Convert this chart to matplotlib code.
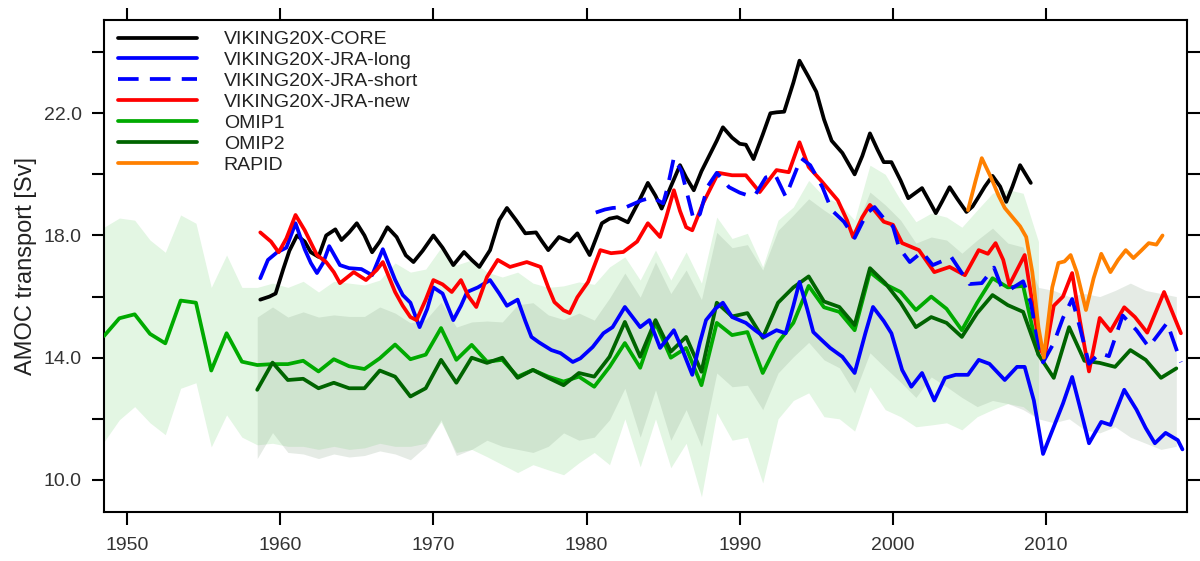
import numpy as np
import matplotlib
matplotlib.use("Agg")
import matplotlib.pyplot as plt

plt.rcParams['font.family'] = ['Liberation Sans', 'DejaVu Sans']

# ---- annual OMIP ensemble means and spreads (plotted at mid-year) ----
omip1_years = np.arange(1948, 2010)
omip1_mean = [14.71, 15.29, 15.42, 14.78, 14.47, 15.87, 15.80, 13.58, 14.80, 13.87,
              13.76, 13.79, 13.79, 13.90, 13.55, 13.95, 13.72, 13.63, 13.98, 14.43,
              13.95, 14.10, 14.97, 13.93, 14.42, 13.87, 13.93, 13.38, 13.60, 13.38,
              13.22, 13.38, 13.05, 13.70, 14.48, 13.67, 15.14, 14.00, 14.32, 13.10,
              15.14, 14.74, 14.84, 13.50, 14.50, 15.14, 16.35, 15.65, 15.50, 14.90,
              16.80, 16.40, 16.15, 15.56, 16.00, 15.60, 14.90, 15.80, 16.60, 16.30,
              16.35, 14.10]
omip1_upper = [18.27, 18.57, 18.50, 17.85, 17.45, 18.67, 18.40, 16.30, 17.36, 16.30,
               16.30, 16.44, 16.30, 16.50, 16.15, 16.50, 16.44, 16.38, 16.54, 17.10,
               16.80, 16.90, 17.60, 17.03, 17.20, 16.80, 16.64, 16.80, 16.44, 16.30,
               16.35, 16.48, 16.40, 16.97, 17.30, 16.54, 17.52, 16.54, 17.46, 16.44,
               18.60, 17.90, 18.07, 16.97, 18.50, 18.93, 19.80, 19.27, 19.05, 18.50,
               20.30, 20.00, 19.15, 18.45, 18.73, 18.60, 18.27, 18.83, 19.38, 19.50,
               19.38, 17.80]
omip1_lower = [11.25, 11.97, 12.40, 11.87, 11.48, 13.00, 13.18, 11.08, 12.13, 11.40,
               11.15, 11.20, 11.10, 11.10, 11.00, 11.10, 11.00, 11.05, 11.20, 11.10,
               11.10, 11.20, 11.90, 10.90, 11.00, 10.76, 10.50, 10.24, 10.50, 10.33,
               10.17, 10.56, 10.90, 10.50, 12.00, 10.43, 12.00, 10.40, 11.20, 9.45,
               12.20, 11.30, 11.40, 9.90, 12.00, 12.60, 12.85, 12.07, 12.00, 11.60,
               13.05, 12.30, 12.07, 11.74, 11.80, 11.87, 11.64, 12.07, 12.30, 12.50,
               12.40, 12.00]

omip2_years = np.arange(1958, 2019)
omip2_mean = [12.95, 13.84, 13.27, 13.31, 13.00, 13.18, 13.00, 13.00, 13.58, 13.38,
              12.73, 13.00, 13.93, 13.18, 14.00, 13.83, 14.00, 13.34, 13.60, 13.34,
              13.10, 13.50, 13.38, 14.03, 15.17, 14.03, 15.23, 14.20, 14.68, 13.54,
              15.80, 15.35, 15.46, 14.65, 15.80, 16.30, 16.66, 15.84, 15.66, 15.07,
              16.93, 16.44, 15.80, 15.00, 15.33, 15.14, 14.68, 15.46, 16.05, 15.72,
              15.50, 14.10, 13.34, 15.00, 13.90, 13.83, 13.70, 14.25, 13.93, 13.34,
              13.65]
omip2_upper = [15.33, 15.66, 15.33, 15.50, 15.33, 15.40, 15.35, 15.35, 15.66, 15.46,
               15.14, 15.24, 15.82, 15.00, 15.17, 15.20, 15.17, 15.73, 15.80, 15.40,
               15.25, 15.46, 15.23, 15.95, 16.77, 15.98, 17.13, 16.10, 16.87, 15.90,
               18.10, 17.60, 17.70, 16.87, 18.17, 18.67, 19.20, 18.83, 18.50, 18.17,
               19.42, 19.00, 18.50, 17.75, 17.95, 17.85, 17.42, 17.85, 18.24, 17.75,
               17.62, 16.30, 16.20, 16.00, 16.10, 16.00, 16.20, 16.44, 16.20, 16.10,
               16.00]
omip2_lower = [10.70, 11.55, 10.90, 10.85, 10.70, 10.85, 10.75, 10.80, 10.95, 10.85,
               10.66, 11.10, 11.97, 10.80, 11.00, 11.30, 11.10, 11.00, 10.90, 11.10,
               11.54, 11.30, 11.40, 11.97, 13.00, 11.40, 12.95, 11.30, 12.30, 11.10,
               13.50, 13.05, 13.10, 12.30, 13.50, 14.03, 14.50, 13.93, 13.67, 12.85,
               14.16, 13.67, 13.20, 12.70, 13.37, 13.05, 12.70, 12.40, 12.60, 12.50,
               12.30, 12.00, 11.87, 12.00, 11.64, 11.54, 11.74, 11.40, 11.20, 11.00,
               11.10]

# ---- VIKING20X runs (smoothed) ----
core_t = [1958.7, 1959.3, 1959.7, 1960.2, 1960.6, 1961.1, 1961.6, 1962.0, 1962.5, 1963.0,
          1963.6, 1964.0, 1964.5, 1965.0, 1965.5, 1966.0, 1966.5, 1967.0, 1967.6, 1968.2,
          1968.7, 1969.3, 1970.0, 1970.6, 1971.3, 1972.0, 1972.5, 1973.0, 1973.7, 1974.3,
          1974.8, 1975.4, 1976.0, 1976.7, 1977.1, 1977.5, 1978.2, 1978.9, 1979.4, 1980.2,
          1981.0, 1981.5, 1982.0, 1982.7, 1983.4, 1984.0, 1984.5, 1984.9, 1985.5, 1986.1,
          1986.5, 1987.0, 1987.5, 1987.9, 1988.5, 1988.9, 1989.5, 1990.0, 1990.4, 1990.9,
          1991.5, 1992.0, 1992.4, 1992.9, 1993.5, 1993.9, 1994.5, 1995.0, 1995.5, 1996.0,
          1996.7, 1997.1, 1997.5, 1998.0, 1998.5, 1999.0, 1999.4, 1999.9, 2000.5, 2001.0,
          2001.9, 2002.4, 2002.8, 2003.2, 2003.7, 2004.2, 2004.8, 2005.2, 2005.6, 2006.0,
          2006.5, 2007.0, 2007.4, 2007.8, 2008.3, 2009.0]
core_v = [15.90, 16.00, 16.10, 16.90, 17.50, 18.00, 17.80, 17.45, 17.30, 18.00,
          18.20, 17.85, 18.10, 18.40, 18.00, 17.45, 17.80, 18.27, 17.95, 17.35,
          17.13, 17.50, 18.00, 17.60, 17.03, 17.46, 17.20, 16.97, 17.52, 18.50,
          18.90, 18.50, 18.07, 18.10, 17.80, 17.52, 17.95, 17.80, 18.07, 17.36,
          18.40, 18.55, 18.60, 18.43, 19.10, 19.72, 19.30, 18.88, 19.60, 20.30,
          19.90, 19.48, 20.10, 20.50, 21.10, 21.54, 21.20, 21.00, 20.97, 20.50,
          21.30, 22.00, 22.03, 22.05, 23.00, 23.72, 23.18, 22.70, 21.80, 21.10,
          20.70, 20.35, 20.00, 20.60, 21.34, 20.80, 20.40, 20.40, 19.80, 19.22,
          19.55, 19.10, 18.73, 19.10, 19.58, 19.20, 18.77, 18.95, 19.27, 19.60,
          19.95, 19.60, 19.10, 19.60, 20.30, 19.72]

long_t = [1958.7, 1959.2, 1959.8, 1960.4, 1961.0, 1961.6, 1962.0, 1962.4, 1962.8, 1963.2,
          1963.9, 1964.5, 1965.3, 1966.0, 1966.7, 1967.5, 1968.0, 1968.5, 1969.1, 1969.6,
          1970.0, 1970.6, 1971.3, 1971.8, 1972.2, 1972.9, 1973.7, 1974.3, 1974.8, 1975.5,
          1976.0, 1976.4, 1976.9, 1977.7, 1978.3, 1979.1, 1979.6, 1980.4, 1981.1, 1981.7,
          1982.5, 1983.5, 1984.1, 1984.8, 1985.7, 1986.3, 1986.9, 1987.4, 1987.8, 1988.4,
          1988.9, 1989.5, 1990.4, 1991.0, 1991.6, 1992.4, 1993.0, 1993.5, 1993.9, 1994.4,
          1994.8, 1995.3, 1995.9, 1996.7, 1997.5, 1998.2, 1998.7, 1999.4, 1999.9, 2000.6,
          2001.2, 2001.9, 2002.7, 2003.4, 2004.1, 2004.9, 2005.6, 2006.3, 2007.3, 2008.1,
          2008.6, 2009.2, 2009.8, 2010.5, 2011.1, 2011.7, 2012.3, 2012.8, 2013.6, 2014.2,
          2015.1, 2015.9, 2016.5, 2017.1, 2017.8, 2018.6, 2018.9]
long_v = [16.60, 17.20, 17.45, 17.60, 18.40, 17.55, 17.10, 16.77, 17.10, 17.65,
          17.03, 16.93, 16.90, 16.70, 17.55, 16.55, 16.05, 15.80, 15.00, 15.60,
          16.30, 16.10, 15.23, 15.70, 16.15, 16.30, 16.54, 16.10, 15.70, 15.90,
          15.20, 14.68, 14.50, 14.25, 14.15, 13.86, 13.98, 14.35, 14.80, 15.00,
          15.66, 15.00, 15.23, 14.32, 14.90, 14.20, 13.44, 14.50, 15.23, 15.60,
          15.80, 15.33, 15.14, 14.90, 14.68, 14.90, 14.80, 15.70, 16.48, 15.60,
          14.84, 14.60, 14.32, 14.03, 13.50, 14.80, 15.66, 15.20, 14.80, 13.60,
          13.05, 13.50, 12.60, 13.34, 13.44, 13.44, 13.93, 13.80, 13.27, 13.70,
          13.70, 12.60, 10.85, 11.74, 12.50, 13.37, 12.20, 11.20, 11.90, 11.80,
          12.95, 12.30, 11.70, 11.20, 11.54, 11.30, 11.00]

short_t = [1980.6, 1981.2, 1981.7, 1982.6, 1983.6, 1984.3, 1985.0, 1985.3, 1985.7, 1986.2,
           1986.6, 1987.0, 1987.4, 1987.9, 1988.5, 1989.3, 1990.0, 1990.6, 1991.0, 1991.7,
           1992.3, 1993.0, 1993.5, 1994.0, 1994.6, 1995.4, 1996.0, 1996.8, 1997.5, 1998.3,
           1998.8, 1999.5, 2000.0, 2000.4, 2001.1, 2001.9, 2002.6, 2003.4, 2003.8, 2004.5,
           2005.0, 2005.8, 2006.6, 2007.1, 2007.7, 2008.5, 2009.0, 2009.4, 2009.8, 2010.5,
           2011.1, 2011.7, 2012.2, 2012.8, 2013.5, 2014.1, 2015.0, 2015.9, 2016.7, 2017.9,
           2018.8]
short_v = [18.75, 18.85, 18.90, 18.93, 19.15, 19.25, 19.05, 19.60, 20.55, 20.10,
           19.30, 18.50, 18.70, 19.60, 20.05, 19.58, 19.40, 19.30, 19.32, 19.90,
           20.00, 19.27, 19.90, 20.53, 20.30, 19.58, 18.83, 18.45, 17.92, 18.73,
           18.93, 18.50, 18.30, 17.60, 17.13, 17.46, 17.03, 17.20, 17.30, 16.77,
           16.41, 16.44, 16.95, 16.30, 16.25, 16.50, 15.80, 14.70, 13.85, 14.48,
           15.30, 15.92, 15.00, 13.80, 14.15, 14.05, 15.38, 14.90, 14.35, 15.14,
           13.85]

new_t = [1958.7, 1959.4, 1959.9, 1960.4, 1961.0, 1961.6, 1962.4, 1963.0, 1963.5, 1963.9,
         1964.8, 1965.6, 1966.3, 1966.7, 1967.5, 1968.0, 1968.5, 1968.9, 1969.5, 1970.0,
         1970.6, 1971.2, 1971.8, 1972.3, 1972.8, 1973.5, 1974.2, 1975.0, 1976.1, 1977.0,
         1977.5, 1977.9, 1978.5, 1978.9, 1979.4, 1980.1, 1980.9, 1981.6, 1982.4, 1983.3,
         1984.0, 1984.8, 1985.2, 1985.7, 1986.1, 1986.5, 1986.9, 1987.6, 1988.6, 1989.5,
         1990.4, 1991.3, 1992.4, 1993.2, 1993.9, 1994.5, 1995.3, 1996.4, 1997.0, 1997.4,
         1998.0, 1998.5, 1999.4, 2000.0, 2000.6, 2001.7, 2002.7, 2003.7, 2004.7, 2005.6,
         2006.2, 2006.7, 2007.2, 2007.6, 2008.6, 2009.1, 2009.6, 2009.9, 2010.5, 2011.1,
         2011.7, 2012.2, 2012.8, 2013.5, 2014.2, 2015.1, 2015.8, 2016.6, 2017.7, 2018.8]
new_v = [18.10, 17.80, 17.45, 17.90, 18.67, 18.17, 17.36, 17.13, 16.80, 16.44,
         16.80, 16.54, 16.87, 17.13, 16.15, 15.70, 15.33, 15.23, 15.90, 16.54,
         16.40, 16.15, 16.54, 16.00, 15.66, 16.64, 17.20, 16.97, 17.13, 16.97,
         16.30, 15.82, 15.55, 15.46, 15.98, 16.48, 17.52, 17.42, 17.46, 17.80,
         18.40, 17.95, 18.60, 19.48, 18.80, 18.27, 18.17, 19.05, 20.05, 19.97,
         19.97, 19.42, 20.14, 20.07, 21.05, 20.24, 19.80, 19.15, 18.50, 17.95,
         18.60, 19.00, 18.45, 18.35, 17.75, 17.52, 16.80, 16.97, 16.70, 17.52,
         17.40, 17.75, 17.20, 16.38, 17.36, 15.80, 14.30, 14.03, 15.70, 16.00,
         16.77, 15.23, 13.55, 15.30, 14.87, 15.65, 15.33, 14.82, 16.15, 14.80]

rapid_t = [2004.9, 2005.4, 2005.8, 2006.4, 2006.9, 2007.3, 2007.8, 2008.3, 2008.7, 2009.1,
           2009.5, 2009.85, 2010.4, 2010.8, 2011.2, 2011.6, 2012.0, 2012.6, 2013.1, 2013.6,
           2014.2, 2014.7, 2015.2, 2015.7, 2016.2, 2016.7, 2017.2, 2017.6]
rapid_v = [18.83, 19.80, 20.53, 19.90, 19.30, 18.90, 18.60, 18.30, 17.95, 16.80,
           15.00, 14.00, 16.30, 17.10, 17.15, 17.36, 16.80, 15.56, 16.60, 17.40,
           16.80, 17.20, 17.52, 17.26, 17.50, 17.75, 17.70, 18.00]

fig = plt.figure(figsize=(12, 5.61), dpi=100)
ax = fig.add_axes([0.0867, 0.0873, 0.9025, 0.877])

x1 = omip1_years + 0.5
x2 = omip2_years + 0.5
ax.fill_between(x1, omip1_lower, omip1_upper, color='#e3f6e3', lw=0, zorder=1)
ax.fill_between(x2, omip2_lower, omip2_upper, color=(0.525, 0.635, 0.525), alpha=0.21,
                lw=0, zorder=2)

lw = 2.7
kw = dict(lw=lw, solid_joinstyle='round', solid_capstyle='round')
ax.plot(core_t, core_v, color='black', label='VIKING20X-CORE', zorder=5, **kw)
ax.plot(long_t, long_v, color='#0000ff', label='VIKING20X-JRA-long', zorder=5, **kw)
ax.plot(new_t, new_v, color='#ff0000', label='VIKING20X-JRA-new', zorder=5, **kw)
ax.plot(short_t, short_v, color='#0000ff', lw=lw, ls=(0, (5.5, 3)),
        label='VIKING20X-JRA-short', zorder=6)
ax.plot(x1, omip1_mean, color='#00aa00', label='OMIP1', zorder=4, **kw)
ax.plot(x2, omip2_mean, color='#006400', label='OMIP2', zorder=4, **kw)
ax.plot(rapid_t, rapid_v, color='#ff8000', label='RAPID', zorder=7, **kw)

ax.set_xlim(1948.5, 2019.2)
ax.set_ylim(8.95, 25.05)
ax.set_xticks(np.arange(1950, 2020, 10))
ax.set_yticks(np.arange(10, 25, 2))
ax.set_yticklabels(['%.1f' % v if v % 4 == 2 else '' for v in np.arange(10, 25, 2)])
ax.tick_params(direction='out', length=9, width=1.5, labelsize=14,
               labelcolor='#333333', top=True, right=True, pad=7)
ax.tick_params(axis='x', pad=9)
for s in ax.spines.values():
    s.set_linewidth(1.5)
ax.set_ylabel('AMOC transport [Sv]', fontsize=17, color='#222222')
ax.yaxis.set_label_coords(-0.062, 0.5)

h, l = ax.get_legend_handles_labels()
order = ['VIKING20X-CORE', 'VIKING20X-JRA-long', 'VIKING20X-JRA-short',
         'VIKING20X-JRA-new', 'OMIP1', 'OMIP2', 'RAPID']
hd = dict(zip(l, h))
leg = ax.legend([hd[k] for k in order], order, loc='upper left', frameon=False,
                fontsize=14, handlelength=4.1, handletextpad=1.35, labelspacing=0.17,
                borderaxespad=0.25, borderpad=0.2, bbox_to_anchor=(0.0046, 0.996))
for t in leg.get_texts():
    t.set_color('#222222')

fig.savefig('out.png', dpi=100)
